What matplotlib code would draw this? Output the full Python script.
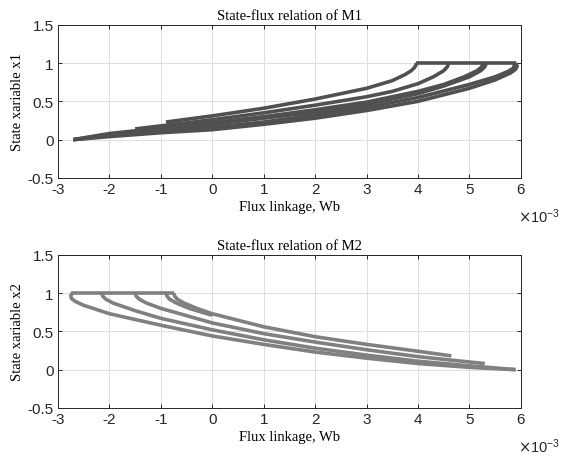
import matplotlib
matplotlib.use("Agg")
import matplotlib.pyplot as plt

# flux in units of 1e-3 Wb
# M1: state x1 rises with flux, saturates at 1
m1_c1_x = [-0.9, 0, 1, 2, 3, 3.5, 3.75, 3.87, 3.93, 3.96, 3.97]
m1_c1_y = [0.23, 0.31, 0.41, 0.53, 0.67, 0.77, 0.85, 0.9, 0.94, 0.97, 1.0]
m1_c2_x = [-1.5, -1, 0, 1, 2, 3, 3.5, 4, 4.3, 4.5, 4.57, 4.6]
m1_c2_y = [0.14, 0.18, 0.26, 0.35, 0.45, 0.56, 0.63, 0.73, 0.82, 0.9, 0.95, 1.0]
m1_c3_x = [-2.7, -2, -1, 0, 1, 2, 3, 4, 4.5, 4.9, 5.15, 5.24, 5.27]
m1_c3_y = [0.0, 0.08, 0.15, 0.22, 0.3, 0.39, 0.49, 0.63, 0.72, 0.82, 0.9, 0.95, 1.0]
m1_c4_x = [-2.7, -2, -1, 0, 1, 2, 3, 4, 4.5, 5, 5.22, 5.3, 5.33]
m1_c4_y = [0.0, 0.07, 0.13, 0.2, 0.28, 0.36, 0.46, 0.6, 0.7, 0.82, 0.9, 0.95, 1.0]
m1_c5_x = [-2.7, -2, -1, 0, 1, 2, 3, 4, 5, 5.5, 5.75, 5.85, 5.88, 5.86]
m1_c5_y = [0.0, 0.05, 0.11, 0.16, 0.23, 0.32, 0.42, 0.55, 0.72, 0.82, 0.89, 0.93, 0.97, 1.0]
m1_c6_x = [-2.7, -2, -1, 0, 1, 2, 3, 4, 5, 5.5, 5.8, 5.9, 5.93, 5.9]
m1_c6_y = [0.0, 0.04, 0.09, 0.13, 0.2, 0.28, 0.38, 0.5, 0.67, 0.78, 0.87, 0.92, 0.96, 1.0]
m1_flat_x = [3.97, 5.9]
m1_flat_y = [1.0, 1.0]

# M2: state x2 falls with flux
m2_d1_x = [-0.75, -0.73, -0.68, -0.55, -0.3, 0, 1, 2, 3, 4, 4.65]
m2_d1_y = [1.0, 0.96, 0.92, 0.87, 0.8, 0.73, 0.56, 0.43, 0.33, 0.24, 0.18]
m2_d2_x = [-0.9, -0.88, -0.83, -0.7, -0.45, -0.2, 0]
m2_d2_y = [1.0, 0.96, 0.92, 0.87, 0.8, 0.75, 0.71]
m2_d3_x = [-1.5, -1.48, -1.42, -1.28, -1, 0, 1, 2, 3, 4, 5, 5.3]
m2_d3_y = [1.0, 0.96, 0.92, 0.87, 0.8, 0.61, 0.47, 0.36, 0.26, 0.17, 0.1, 0.08]
m2_d4_x = [-2.15, -2.13, -2.07, -1.93, -1.5, -1, 0, 1, 2, 3, 4, 5, 5.9]
m2_d4_y = [1.0, 0.96, 0.92, 0.87, 0.77, 0.67, 0.52, 0.39, 0.28, 0.19, 0.11, 0.05, 0.0]
m2_d5_x = [-2.72, -2.75, -2.74, -2.66, -2.5, -2, -1, 0, 1, 2, 3, 4, 5, 5.9]
m2_d5_y = [1.0, 0.97, 0.93, 0.89, 0.84, 0.73, 0.58, 0.44, 0.33, 0.23, 0.15, 0.08, 0.03, 0.0]
m2_flat_x = [-2.74, -0.75]
m2_flat_y = [1.0, 1.0]

xticks = [-3, -2, -1, 0, 1, 2, 3, 4, 5, 6]
yticks = [-0.5, 0, 0.5, 1, 1.5]
ytick_labels = ["-0.5", "0", "0.5", "1", "1.5"]

serif = "Liberation Serif"
sans = "Liberation Sans"

fig = plt.figure(figsize=(5.63, 4.60), dpi=100)
ax1 = fig.add_axes([0.103, 0.611, 0.822, 0.333])
ax2 = fig.add_axes([0.103, 0.111, 0.822, 0.333])

m1_curves = [(m1_c1_x, m1_c1_y), (m1_c2_x, m1_c2_y), (m1_c3_x, m1_c3_y),
             (m1_c4_x, m1_c4_y), (m1_c5_x, m1_c5_y), (m1_c6_x, m1_c6_y),
             (m1_flat_x, m1_flat_y)]
m2_curves = [(m2_d1_x, m2_d1_y), (m2_d2_x, m2_d2_y), (m2_d3_x, m2_d3_y),
             (m2_d4_x, m2_d4_y), (m2_d5_x, m2_d5_y), (m2_flat_x, m2_flat_y)]

for cx, cy in m1_curves:
    ax1.plot(cx, cy, color="#505050", lw=2.6, solid_capstyle="butt")
for cx, cy in m2_curves:
    ax2.plot(cx, cy, color="#808080", lw=2.6, solid_capstyle="butt")

for ax, title, ylab in [(ax1, "State-flux relation of M1", "State xariable x1"),
                        (ax2, "State-flux relation of M2", "State xariable x2")]:
    ax.set_xlim(-3, 6)
    ax.set_ylim(-0.5, 1.5)
    ax.set_xticks(xticks)
    ax.set_yticks(yticks)
    ax.set_xticklabels([str(t) for t in xticks], fontfamily=sans, fontsize=11)
    ax.set_yticklabels(ytick_labels, fontfamily=sans, fontsize=11)
    ax.tick_params(direction="in", top=True, right=True, length=3,
                   width=0.7, colors="#262626", pad=3)
    ax.grid(True, color="#dedede", lw=0.7)
    ax.set_axisbelow(True)
    for s in ax.spines.values():
        s.set_color("#262626")
        s.set_linewidth(0.7)
    ax.set_title(title, fontfamily=serif, fontsize=10.5, pad=4)
    ax.set_xlabel("Flux linkage, Wb", fontfamily=serif, fontsize=10.5, labelpad=3)
    ax.set_ylabel(ylab, fontfamily=serif, fontsize=10.5, labelpad=3)
    ax.text(1.085, -0.245, r"$\times\mathregular{10^{-3}}$", transform=ax.transAxes,
            ha="right", va="center", fontfamily=sans, fontsize=10.5, color="#262626")

fig.savefig("out.png", dpi=100)
